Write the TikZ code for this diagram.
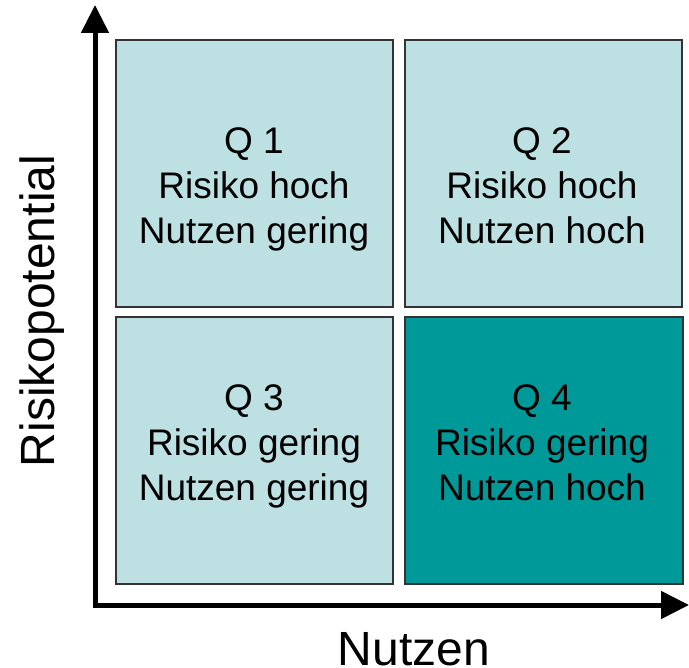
\documentclass[tikz,border=0pt]{standalone}
\usepackage{fontspec}
\setmainfont{Liberation Sans}
\usetikzlibrary{arrows.meta}
\definecolor{light}{HTML}{BDE0E3}
\definecolor{dark}{HTML}{009999}
\definecolor{edge}{HTML}{333333}
\begin{document}
\begin{tikzpicture}[x=1pt,y=-1pt,
  quad/.style={draw=edge,line width=1.6pt,fill=light,minimum width=277pt,minimum height=267pt,anchor=north west,inner sep=0pt},
  qtext/.style={align=center,font=\fontsize{37}{45}\selectfont,inner sep=0pt},
  axis/.style={line width=5pt,-{Triangle[width=27pt,length=28pt]}},
  lab/.style={font=\fontsize{48}{52}\selectfont,inner sep=0pt,anchor=base}]
\useasboundingbox (0,0) rectangle (689,668);
\node[quad] (q1) at (115,39) {};
\node[quad] (q2) at (404,39) {};
\node[quad] (q3) at (115,316) {};
\node[quad,fill=dark,minimum width=278pt] (q4) at (404,316) {};
\node[qtext] (t1) at (254,189) {Q 1\\Risiko hoch\\Nutzen gering};
\node[qtext] (t2) at (542,186) {Q 2\\Risiko hoch\\Nutzen hoch};
\node[qtext] (t3) at (254,446) {Q 3\\Risiko gering\\Nutzen gering};
\node[qtext] (t4) at (542,443) {Q 4\\Risiko gering\\Nutzen hoch};
\coordinate (o) at (95,605);
\coordinate (top) at (95,5);
\coordinate (right) at (689,605);
\draw[axis] ([yshift=2.5pt]o) -- (top);
\draw[axis] ([xshift=-2.5pt]o) -- (right);
\node[lab] (nx) at (414,665) {Nutzen};
\node[lab,rotate=90] (ny) at (54,311) {Risikopotential};
\end{tikzpicture}
\end{document}
